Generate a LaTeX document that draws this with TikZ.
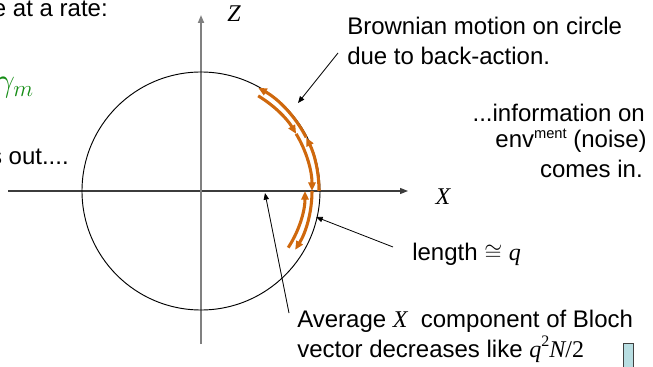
\documentclass[tikz,border=0pt]{standalone}
\usepackage{fontspec}
\setmainfont{Liberation Sans}
\newfontfamily\tnr{Liberation Serif}
\usetikzlibrary{arrows.meta}
\definecolor{orng}{RGB}{207,104,13}
\definecolor{grn}{RGB}{20,140,20}
\definecolor{axgray}{RGB}{128,128,128}
\definecolor{axdark}{RGB}{60,60,60}
\definecolor{boxblue}{RGB}{184,222,226}
\begin{document}
\begin{tikzpicture}[x=0.75pt,y=0.75pt,
  txt/.style={inner sep=0pt,font=\fontsize{18}{21.6}\selectfont},
  lbl/.style={inner sep=0pt,font=\tnr\fontsize{18}{18}\selectfont\itshape},
  ptr/.style={-{Triangle[length=5pt,width=4pt]},line width=0.6pt},
  walk/.style={orng,line width=2.3pt,-{Triangle[length=6.5pt,width=5.5pt]}},
]
\useasboundingbox (0,0) rectangle (653,-367);
\clip (0,0) rectangle (653,-367);

% axes
\coordinate (xs) at (8,-191);
\coordinate (xe) at (408,-191);
\coordinate (zs) at (201,-344);
\coordinate (ze) at (201,-15);
\draw[axdark,line width=0.9pt,-{Triangle[length=6pt,width=4.5pt]}] (xs) -- (xe);
\draw[axgray,line width=1.3pt,-{Triangle[length=6pt,width=4.5pt]}] (zs) -- (ze);

% circle
\coordinate (o) at (201,-191);
\draw[line width=0.7pt] (o) circle[radius=119];

% orange random walk
\draw[walk] ([shift={(0:118)}]o) arc[start angle=0,end angle=27,radius=118];
\draw[walk] ([shift={(27:118)}]o) arc[start angle=27,end angle=61,radius=118];
\draw[walk] ([shift={(59:111)}]o) arc[start angle=59,end angle=31,radius=111];
\draw[walk] ([shift={(31:111)}]o) arc[start angle=31,end angle=0,radius=111];
\draw[walk] ([shift={(0:111)}]o) arc[start angle=0,end angle=-32,radius=111];
\draw[walk] ([shift={(-33:104)}]o) arc[start angle=-33,end angle=0,radius=104];

% axis labels
\node[lbl] (zl) at (234,-14) {Z};
\node[lbl] (xl) at (443,-197) {X};

% left texts (cut at edge)
\node[txt,anchor=base east] (t1) at (108,-17) {e at a rate:};
\node[inner sep=0pt,anchor=base east,text=grn,font=\fontsize{26}{26}\selectfont] (t2) at (34,-92) {$\gamma_m$};
\node[txt,anchor=base east] (t3) at (69,-165) {s out....};

% right texts
\node[txt,anchor=base west] (b1) at (347,-35) {Brownian motion on circle};
\node[txt,anchor=base west] (b2) at (347,-65) {due to back-action.};
\node[txt,anchor=base east] (i1) at (645,-122) {...information on};
\node[txt,anchor=base east] (i2) at (647,-148) {env\raisebox{0.4em}{\fontsize{11}{11}\selectfont ment} (noise)};
\node[txt,anchor=base east] (i3) at (643,-177) {comes in.};
\node[txt,anchor=base west] (l1) at (412,-260) {length $\cong$ {\tnr\itshape q}};
\node[txt,anchor=base west] (a1) at (297,-327) {Average {\tnr\itshape X}~ component of Bloch};
\node[txt,anchor=base west] (a2) at (297,-357) {vector decreases like {\tnr\itshape q}{\tnr\raisebox{0.45em}{\fontsize{12}{12}\selectfont 2}}{\tnr\itshape N}{\tnr /2}};

% pointers
\coordinate (p1a) at (338,-53);
\coordinate (p1b) at (298,-103);
\draw[ptr] (p1a) -- (p1b);
\coordinate (p2a) at (393,-247);
\coordinate (p2b) at (316,-217);
\draw[ptr] (p2a) -- (p2b);
\coordinate (p3a) at (289,-313);
\coordinate (p3b) at (265,-193);
\draw[ptr] (p3a) -- (p3b);

% small box at bottom right
\node[draw=black!75,fill=boxblue,line width=1pt,inner sep=0pt,minimum width=7.5pt,minimum height=22.5pt,anchor=north west] (bx) at (623,-343) {};
\end{tikzpicture}
\end{document}
